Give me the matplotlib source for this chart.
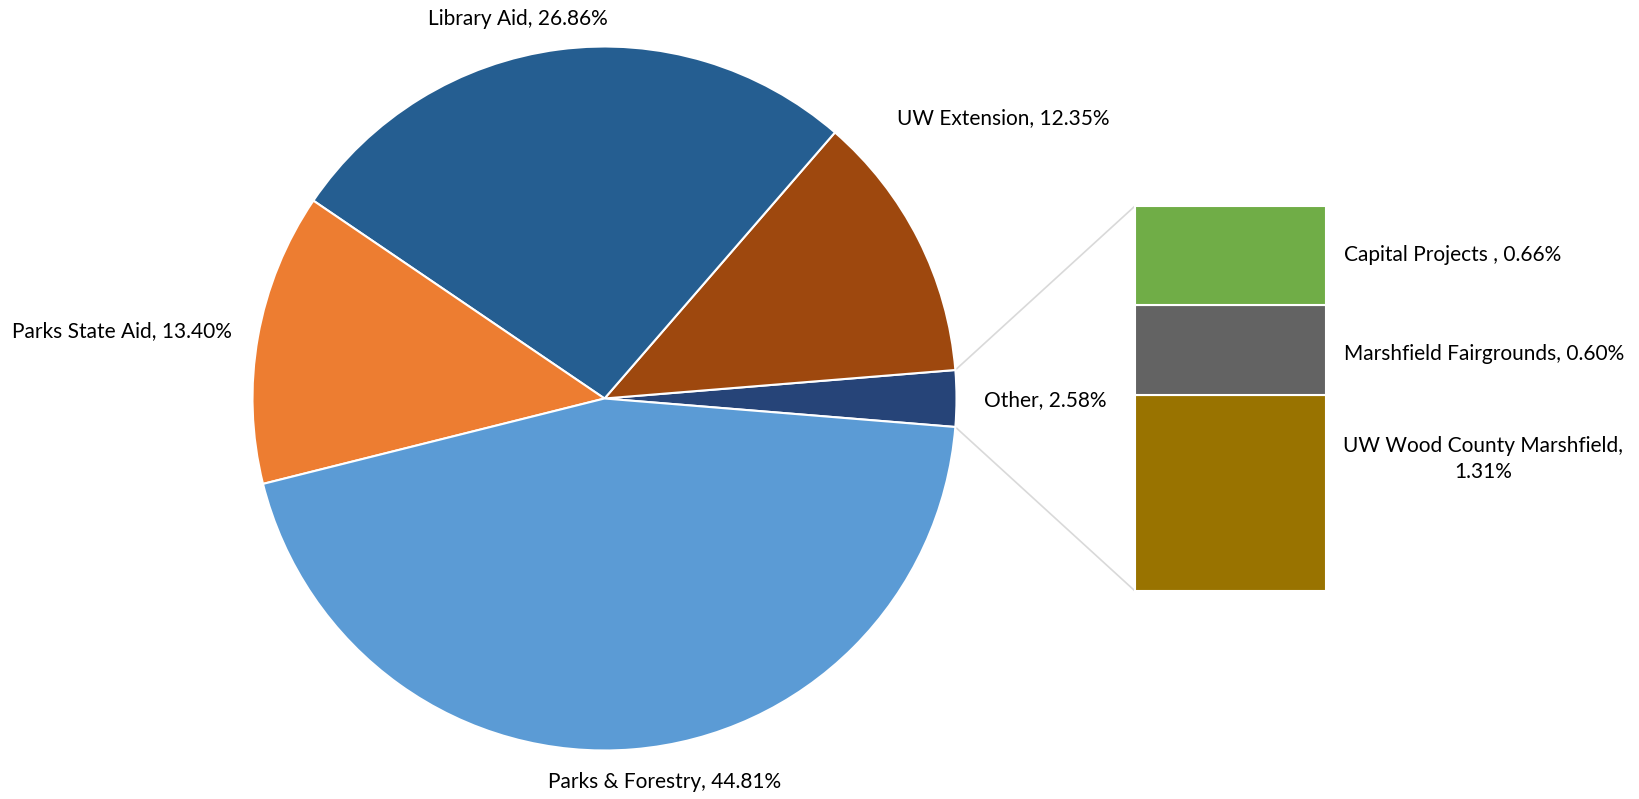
import matplotlib
matplotlib.use("Agg")
import matplotlib.pyplot as plt
from matplotlib.patches import Rectangle
import numpy as np

plt.rcParams['font.family'] = ['Lato', 'DejaVu Sans']

# pie slices, in drawing order (counter-clockwise from "Other")
pie_labels = ["Other", "UW Extension", "Library Aid", "Parks State Aid", "Parks & Forestry"]
pie_values = [2.58, 12.35, 26.86, 13.40, 44.81]
pie_colors = ["#264478", "#9E480E", "#255E91", "#ED7D31", "#5B9BD5"]

# breakdown of "Other", bottom to top
bar_labels = ["UW Wood County Marshfield,\n1.31%", "Marshfield Fairgrounds, 0.60%", "Capital Projects , 0.66%"]
bar_values = [1.31, 0.60, 0.66]
bar_colors = ["#997300", "#636363", "#70AD47"]

W, H = 1640, 799
fig = plt.figure(figsize=(W / 100, H / 100), dpi=100)
ax = fig.add_axes([0, 0, 1, 1])
ax.set_aspect('equal')

cx, cy, R = 604.5, 400.5, 352
start = -pie_values[0] / sum(pie_values) * 360 / 2
wedges, _ = ax.pie(pie_values, colors=pie_colors, startangle=start, counterclock=True,
                   center=(cx, cy), radius=R, frame=True,
                   wedgeprops=dict(edgecolor='white', linewidth=1.5))
ax.set_xlim(0, W)
ax.set_ylim(0, H)
ax.axis('off')

# bar of pie
bx, bw = 1135, 191
by0, btop = 208, 593
scale = (btop - by0) / sum(bar_values)
y = by0
for v, c in zip(bar_values, bar_colors):
    ax.add_patch(Rectangle((bx, y), bw, v * scale, facecolor=c, edgecolor='white', linewidth=1.5))
    y += v * scale

# connector lines
t1, t2 = np.deg2rad(wedges[0].theta2), np.deg2rad(wedges[0].theta1)
ax.plot([cx + R * np.cos(t1), bx], [cy + R * np.sin(t1), btop], color='#D9D9D9', lw=1.2, zorder=0)
ax.plot([cx + R * np.cos(t2), bx], [cy + R * np.sin(t2), by0], color='#D9D9D9', lw=1.2, zorder=0)

fs = 15
def lab(x, y, s, ha='center'):
    ax.text(x, H - y, s, ha=ha, va='center', fontsize=fs, color='black')

lab(518, 19, "Library Aid, 26.86%")
lab(1003, 118, "UW Extension, 12.35%")
lab(12, 331, "Parks State Aid, 13.40%", ha='left')
lab(665, 782, "Parks & Forestry, 44.81%")
lab(1045, 400, "Other, 2.58%")
lab(1344, 255, "Capital Projects , 0.66%", ha='left')
lab(1344, 354, "Marshfield Fairgrounds, 0.60%", ha='left')
ax.text(1483, H - 459, bar_labels[0], ha='center', va='center', fontsize=fs,
        linespacing=1.4)

fig.savefig("out.png", dpi=100)
